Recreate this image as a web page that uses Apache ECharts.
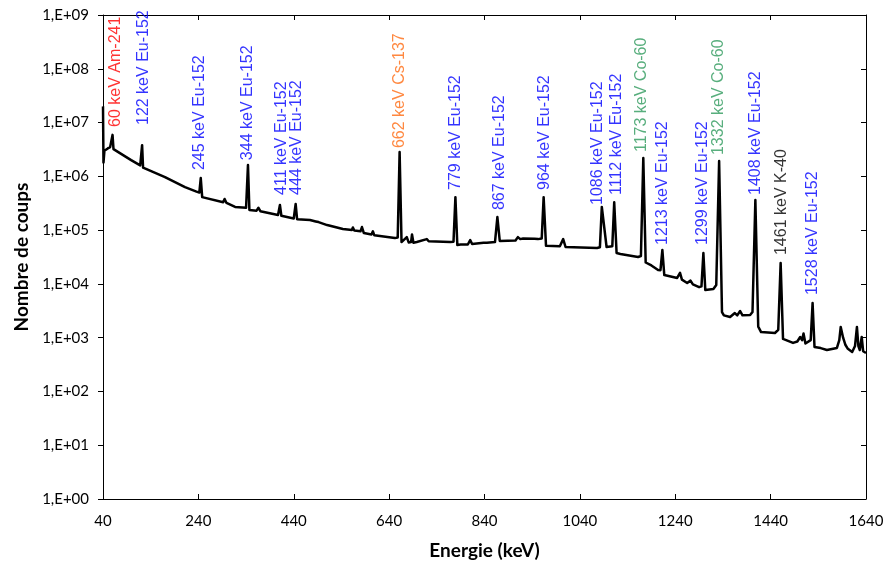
<!DOCTYPE html>
<html>
<head>
<meta charset="utf-8">
<script src="https://cdn.jsdelivr.net/npm/echarts@6/dist/echarts.min.js"></script>
<style>html,body{margin:0;padding:0;background:#fff}#c{width:887px;height:568px}</style>
</head>
<body>
<div id="c"></div>
<script>
// Spectrum: energy (keV) and counts
const energies = [40,41,43,50,55,57,60,62,64,99,118,120,122,124,170,212,236,242,245,248,292,295,299,317,340,344,347,362,366,370,407,411,414,440,444,447,474,486,489,492,510,543,562,564,567,580,583,587,603,606,609,652,658,662,666,670,677,681,686,688,691,698,719,723,768,775,779,783,790,805,810,814,838,841,845,862,867,872,905,910,915,921,945,952,960,964,969,998,1005,1010,1076,1082,1086,1096,1108,1112,1117,1125,1162,1168,1173,1178,1190,1204,1209,1213,1217,1244,1250,1254,1265,1272,1277,1290,1295,1299,1303,1320,1326,1332,1338,1342,1355,1365,1370,1376,1381,1397,1402,1408,1414,1420,1449,1456,1461,1466,1487,1496,1502,1506,1509,1513,1517,1524,1528,1532,1545,1558,1579,1584,1587,1592,1597,1602,1611,1617,1621,1624,1627,1631,1634,1640];
const counts = [2.0e7,1.8e6,3.0e6,3.3e6,3.5e6,3.6e6,5.9e6,3.2e6,3.0e6,2.0e6,1.6e6,1.55e6,3.8e6,1.45e6,9.7e5,6.3e5,5.2e5,5.0e5,9.3e5,4.1e5,3.3e5,3.8e5,3.2e5,2.7e5,2.6e5,1.62e6,2.36e5,2.3e5,2.6e5,2.25e5,1.91e5,2.93e5,1.85e5,1.65e5,3.06e5,1.6e5,1.54e5,1.45e5,1.55e5,1.41e5,1.24e5,1.05e5,1.0e5,1.12e5,9.8e4,9.5e4,1.14e5,8.8e4,8.3e4,9.5e4,8.0e4,7.1e4,7.3e4,2.83e6,6.0e4,5.8e4,7.4e4,5.9e4,6.0e4,8.3e4,5.8e4,6.0e4,6.8e4,6.2e4,6.0e4,6.1e4,4.1e5,5.3e4,5.4e4,5.4e4,6.5e4,5.5e4,5.8e4,6.3e4,5.8e4,6.0e4,1.75e5,6.3e4,6.4e4,7.4e4,6.8e4,7.0e4,6.9e4,6.8e4,7.0e4,4.1e5,5.1e4,5.0e4,6.8e4,4.85e4,4.65e4,4.8e4,2.7e5,4.85e4,5.0e4,3.3e5,3.75e4,3.6e4,3.16e4,3.3e4,2.19e6,2.5e4,2.2e4,1.81e4,1.8e4,4.27e4,1.46e4,1.29e4,1.6e4,1.2e4,1.04e4,1.15e4,9.8e3,8.7e3,9.0e3,3.75e4,7.7e3,8.0e3,9.5e3,1.93e6,3.0e3,2.6e3,2.42e3,2.87e3,2.6e3,3.13e3,2.6e3,2.64e3,3.0e3,3.63e5,1.6e3,1.27e3,1.22e3,1.4e3,2.45e4,950,800,850,1030,900,1200,780,800,900,4410,670,640,590,643,900,1580,1000,730,620,541,700,1580,700,590,1030,560,519];

// Peak annotations
const labelTexts = ["60 keV Am-241","122 keV Eu-152","245 keV Eu-152","344 keV Eu-152","411 keV Eu-152","444 keV Eu-152","662 keV Cs-137","779 keV Eu-152","867 keV Eu-152","964 keV Eu-152","1086 keV Eu-152","1112 keV Eu-152","1173 keV Co-60","1213 keV Eu-152","1299 keV Eu-152","1332 keV Co-60","1408 keV Eu-152","1461 keV K-40","1528 keV Eu-152"];
const labelEnergies = [67,126,243,344,415,447,663,780,872,967,1078,1118,1170,1214,1298,1331,1409,1464,1529];
const labelCounts = [8.3e6,9.0e6,1.31e6,2.0e6,4.5e5,4.5e5,3.36e6,5.57e5,2.36e5,5.57e5,2.93e5,4.5e5,2.83e6,5.3e4,5.3e4,2.49e6,4.5e5,3.44e4,6.2e3];
const labelColors = ["#ff0000","#0000ff","#0000ff","#0000ff","#0000ff","#0000ff","#ff6a10","#0000ff","#0000ff","#0000ff","#0000ff","#0000ff","#2e9a5c","#0000ff","#0000ff","#2e9a5c","#0000ff","#000000","#0000ff"];

const xTicks = {min:40, max:1640, interval:200};

const chart = echarts.init(document.getElementById('c'), null, {renderer:'canvas'});
const lineData = energies.map((e,i)=>[e, counts[i]]);
const labelData = labelTexts.map((t,i)=>({
  value:[labelEnergies[i], labelCounts[i]],
  label:{formatter:t, color:labelColors[i]}
}));
const axisFont = {fontFamily:'Lato', fontSize:15, color:'#000'};
chart.setOption({
  animation:false,
  backgroundColor:'#fff',
  grid:{left:103, right:21, top:15, bottom:69},
  xAxis:[{
    type:'value', min:xTicks.min, max:xTicks.max, interval:xTicks.interval,
    position:'bottom',
    name:'Energie (keV)', nameLocation:'middle', nameGap:42,
    nameTextStyle:{fontFamily:'Lato', fontWeight:'bold', fontSize:19, color:'#000'},
    axisLine:{show:true, lineStyle:{color:'#000', width:1}},
    axisTick:{show:true, inside:true, length:5, lineStyle:{color:'#000'}},
    axisLabel:Object.assign({margin:15, formatter:v=>String(v)}, axisFont),
    splitLine:{show:false}
  },{
    type:'value', min:xTicks.min, max:xTicks.max, interval:xTicks.interval,
    position:'top',
    axisLine:{show:true, lineStyle:{color:'#000', width:1}},
    axisTick:{show:true, inside:true, length:5, lineStyle:{color:'#000'}},
    axisLabel:{show:false},
    splitLine:{show:false}
  }],
  yAxis:[{
    type:'log', logBase:10, min:1, max:1e9, splitNumber:9,
    position:'left',
    name:'Nombre de coups', nameLocation:'middle', nameGap:64,
    nameTextStyle:{fontFamily:'Lato', fontWeight:'bold', fontSize:19, color:'#000'},
    axisLine:{show:true, lineStyle:{color:'#000', width:1}},
    axisTick:{show:true, inside:false, length:5, lineStyle:{color:'#000'}},
    axisLabel:Object.assign({margin:14, formatter:v=>'1,E+'+String(Math.round(Math.log10(v))).padStart(2,'0')}, axisFont),
    splitLine:{show:false}
  },{
    type:'log', logBase:10, min:1, max:1e9, splitNumber:9,
    position:'right',
    axisLine:{show:true, lineStyle:{color:'#000', width:1}},
    axisTick:{show:true, inside:true, length:5, lineStyle:{color:'#000'}},
    axisLabel:{show:false},
    splitLine:{show:false}
  }],
  series:[{
    type:'line', data:lineData, showSymbol:false, symbol:'none',
    lineStyle:{color:'#000', width:2.5, join:'round'},
    clip:true, z:3
  },{
    type:'scatter', data:labelData, symbolSize:0,
    label:{show:true, position:'top', distance:0, rotate:90, align:'left', verticalAlign:'middle',
      fontFamily:'Liberation Sans', fontSize:16},
    z:4
  }]
});
</script>
</body>
</html>
